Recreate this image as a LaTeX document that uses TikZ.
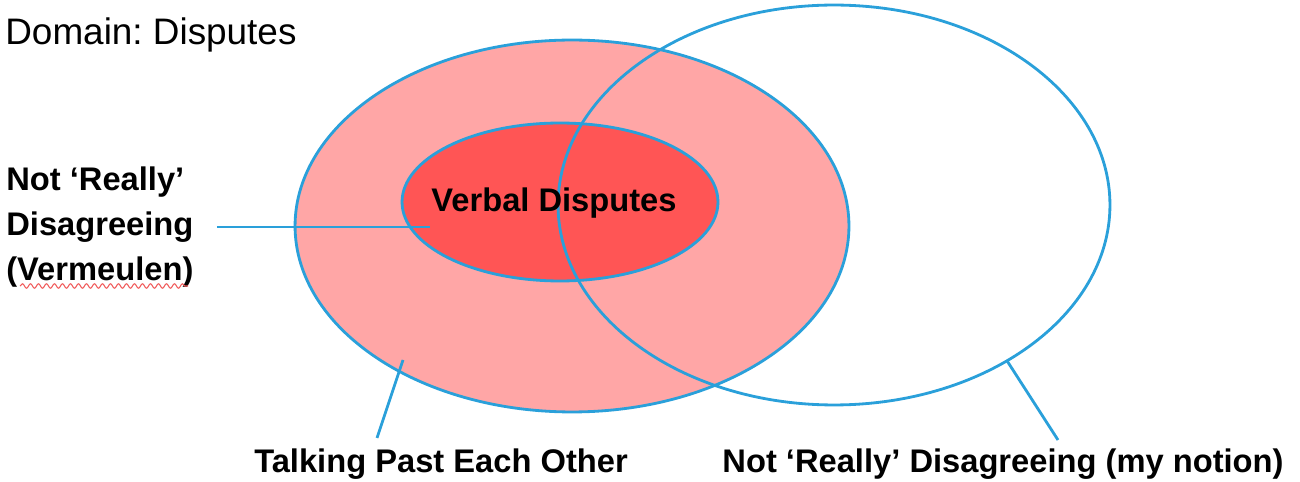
\documentclass[tikz,border=0pt]{standalone}
\usepackage{fontspec}
\setmainfont{Liberation Sans}
\usepackage{tikz}
\usetikzlibrary{shapes,decorations.pathmorphing}
\definecolor{setline}{RGB}{42,160,218}
\definecolor{setpink}{RGB}{255,166,166}
\definecolor{setred}{RGB}{255,85,85}
\definecolor{spell}{RGB}{240,90,90}
\frenchspacing
\tikzstyle{Aset}=[ellipse,draw=setline,line width=1.6pt,inner sep=0,outer sep=0]
\tikzstyle{Alab}=[inner sep=0,font=\bfseries\fontsize{18.6}{25.6}\selectfont]
\tikzstyle{Alead}=[draw=setline,line width=1.6pt]
\tikzstyle{Awavy}=[draw=spell,line width=0.6pt,decorate,
               decoration={snake,segment length=0.16cm,amplitude=0.045cm}]

\begin{document}
\begin{tikzpicture}[x=0.02cm,y=-0.02cm]
  \useasboundingbox (0,0) rectangle (1300,482);

  \node[inner sep=0,anchor=base west,font=\fontsize{21}{24}\selectfont] (dom) at (5,45) {Domain: Disputes};

  \node[Aset,fill=setpink,minimum width=11.08cm,minimum height=7.44cm] (talk) at (572,226) {};
  \node[Aset,fill=setred,minimum width=6.32cm,minimum height=3.16cm] (verbal) at (560,202) {};
  \node[Aset,minimum width=11.04cm,minimum height=8cm] (mine) at (834,205) {};

  \node[Alab,anchor=base] (verbalLab) at (554,212) {Verbal Disputes};

  \node[Alab,align=left,anchor=west] (vml) at (6,227) {Not ‘Really’\\Disagreeing\\(Vermeulen)};
  \draw[Awavy] (20,286) -- (188,286);
  \node[Alab,anchor=base] (talkLab) at (441,472) {Talking Past Each Other};
  \node[Alab,anchor=base] (mineLab) at (1003,472) {Not ‘Really’ Disagreeing (my notion)};

  % leaders
  \coordinate (vmlTip) at (430,228);
  \coordinate (talkTip) at (403,360);
  \coordinate (talkFoot) at (377,438);
  \coordinate (mineFoot) at (1058,440);
  \draw[Alead,shorten <=0.46cm] (vml.east) -- (vml.east -| vmlTip);
  \draw[Alead] (talkFoot) -- (talkTip);
  \draw[Alead] (mineFoot) -- (mine.-42);
\end{tikzpicture}
\end{document}
